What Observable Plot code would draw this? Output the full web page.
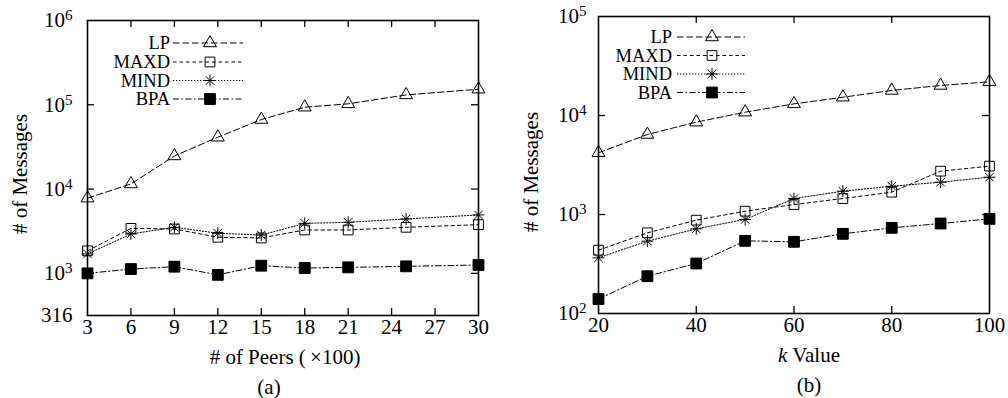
<!DOCTYPE html>
<html><head><meta charset="utf-8">
<script src="https://cdn.jsdelivr.net/npm/d3@7"></script>
<script src="https://cdn.jsdelivr.net/npm/@observablehq/plot@0.6"></script>
<style>
body{margin:0;background:#fff;}
#wrap{display:flex;width:1008px;height:398px;overflow:hidden;}
</style></head><body><div id="wrap"></div>
<script>
// ---------- data ----------
const seriesNames = ["LP", "MAXD", "MIND", "BPA"];

const peers = [3, 6, 9, 12, 15, 18, 21, 25, 30];
const peersLP   = [7800, 11500, 24700, 41200, 66800, 93600, 102600, 131000, 153000];
const peersMAXD = [1850, 3420, 3360, 2680, 2630, 3270, 3270, 3520, 3780];
const peersMIND = [1700, 2930, 3520, 2990, 2850, 3920, 4030, 4420, 4930];
const peersBPA  = [1000, 1125, 1200, 960, 1233, 1157, 1178, 1211, 1256];

const kValues = [20, 30, 40, 50, 60, 70, 80, 90, 100];
const kLP   = [4200, 6430, 8570, 10800, 13100, 15300, 17900, 20100, 21900];
const kMAXD = [436, 653, 877, 1080, 1260, 1450, 1680, 2740, 3080];
const kMIND = [365, 538, 716, 891, 1450, 1720, 1930, 2120, 2380];
const kBPA  = [140, 238, 320, 542, 530, 638, 733, 811, 904];

const peersXTicks = [3, 6, 9, 12, 15, 18, 21, 24, 27, 30];
const peersYTicks = [316.2278, 1e3, 1e4, 1e5, 1e6];
const peersYTickLabels = ["316", "10^3", "10^4", "10^5", "10^6"];
const kXTicks = [20, 40, 60, 80, 100];
const kYTicks = [1e2, 1e3, 1e4, 1e5];
const kYTickLabels = ["10^2", "10^3", "10^4", "10^5"];

// ---------- styles ----------
const FONT = "'Liberation Serif', 'Times New Roman', serif";
const FS = 21;
const asterisk8 = {
  draw(ctx, size) {
    const r = Math.sqrt(size) * 0.6, d = r * Math.SQRT1_2;
    ctx.moveTo(-r, 0); ctx.lineTo(r, 0);
    ctx.moveTo(0, -r); ctx.lineTo(0, r);
    ctx.moveTo(-d, -d); ctx.lineTo(d, d);
    ctx.moveTo(-d, d); ctx.lineTo(d, -d);
  }
};
const style = {
  LP:   {dash: "6.5,3", symbol: "triangle", r: 4.8, fill: "none"},
  MAXD: {dash: "3.5,3", symbol: "square", r: 5.5, fill: "none"},
  MIND: {dash: "1.3,1.7", symbol: asterisk8, r: 5.6, fill: "none"},
  BPA:  {dash: "6,2.5,1.5,2.5", symbol: "square", r: 6.1, fill: "black"}
};
const symbolType = (s) => typeof s === "string" ? {triangle: d3.symbolTriangle, square: d3.symbolSquare}[s] : s;

function rows(xs, arrays) {
  const out = [];
  seriesNames.forEach((s, j) => xs.forEach((x, i) => out.push({x, y: arrays[j][i], s})));
  return out;
}

function makePanel(cfg) {
  const data = rows(cfg.xs, cfg.series);
  const fw = cfg.width - cfg.margin.left - cfg.margin.right;
  const fh = cfg.height - cfg.margin.top - cfg.margin.bottom;
  const innerX = cfg.xTicks.slice(1, -1);
  const innerY = cfg.yTicks.slice(1, -1);
  const marks = [];
  // inward mirrored ticks
  marks.push(Plot.tickX(innerX, {x: d => d, insetTop: fh - 7, stroke: "black", strokeWidth: 1.3}));
  marks.push(Plot.tickX(innerX, {x: d => d, insetBottom: fh - 7, stroke: "black", strokeWidth: 1.3}));
  marks.push(Plot.tickY(innerY, {y: d => d, insetRight: fw - 7, stroke: "black", strokeWidth: 1.3}));
  marks.push(Plot.tickY(innerY, {y: d => d, insetLeft: fw - 7, stroke: "black", strokeWidth: 1.3}));
  // series lines and markers
  for (const s of seriesNames) {
    const d = data.filter(r => r.s === s);
    marks.push(Plot.line(d, {x: "x", y: "y", stroke: "black", strokeWidth: 1, strokeDasharray: style[s].dash}));
  }
  for (const s of seriesNames) {
    const d = data.filter(r => r.s === s);
    const st = style[s];
    marks.push(Plot.dot(d, {x: "x", y: "y", symbol: () => st.symbol, r: st.r,
      stroke: "black", strokeWidth: 1, fill: st.fill}));
  }
  marks.push(Plot.frame({stroke: "black", strokeWidth: 1.6}));
  // legend
  const lg = cfg.legend;
  marks.push((index, scales, values, dims) => {
    const g = d3.create("svg:g");
    seriesNames.forEach((s, i) => {
      const st = style[s];
      const y = dims.marginTop + lg.rows[i];
      const x0 = dims.marginLeft;
      g.append("text").attr("x", x0 + lg.textEnd).attr("y", y).attr("dy", "0.34em")
        .attr("text-anchor", "end").attr("fill", "black")
        .style("font-size", "18.5px").text(s);
      g.append("line").attr("x1", x0 + lg.lineStart).attr("x2", x0 + lg.lineEnd)
        .attr("y1", y).attr("y2", y).attr("stroke", "black").attr("stroke-width", 1)
        .attr("stroke-dasharray", st.dash);
      g.append("path").attr("transform", `translate(${x0 + lg.marker},${y})`)
        .attr("d", d3.symbol(symbolType(st.symbol), st.r * st.r * Math.PI)())
        .attr("fill", st.fill).attr("stroke", "black").attr("stroke-width", 1);
    });
    return g.node();
  });
  // axis titles and caption
  marks.push(Plot.text([cfg.yLabel], {text: d => d, frameAnchor: "left", textAnchor: "middle", lineAnchor: "middle",
    dx: cfg.yLabelDx, dy: cfg.yLabelDy, rotate: -90, fontSize: FS, fill: "black"}));
  marks.push(Plot.text([cfg.xLabel], {text: d => d, frameAnchor: "bottom", textAnchor: "middle", lineAnchor: "middle",
    dx: cfg.xLabelDx, dy: cfg.xLabelDy, fontSize: FS, fill: "black"}));
  marks.push(Plot.text([cfg.caption], {text: d => d, frameAnchor: "bottom", textAnchor: "middle", lineAnchor: "middle",
    dx: cfg.capDx, dy: cfg.capDy, fontSize: FS, fill: "black"}));

  const svg = Plot.plot({
    width: cfg.width, height: cfg.height,
    marginLeft: cfg.margin.left, marginRight: cfg.margin.right,
    marginTop: cfg.margin.top, marginBottom: cfg.margin.bottom,
    style: {fontSize: FS + "px", color: "black", background: "white"},
    x: {type: "linear", domain: cfg.xDomain, ticks: cfg.xTicks, tickSize: 0, tickPadding: 4, label: null, tickFormat: d => String(d)},
    y: {type: "log", domain: cfg.yDomain, ticks: cfg.yTicks, tickSize: 0, tickPadding: cfg.yPad, label: null,
        tickFormat: d => String(d)},
    marks
  });
  // y tick labels from the label list (in tick order)
  const yl = svg.querySelectorAll('g[aria-label="y-axis tick label"] text');
  yl.forEach((t, i) => { if (i < cfg.yTickLabels.length) t.textContent = cfg.yTickLabels[i]; });
  // fonts, superscripts and italic
  svg.setAttribute("font-family", FONT);
  svg.style.fontFamily = FONT;
  svg.querySelectorAll("text").forEach(t => {
    t.setAttribute("font-family", FONT);
    t.style.fontFamily = FONT;
    const txt = t.textContent;
    if (/^10\^\d$/.test(txt)) {
      t.textContent = "10";
      const sp = document.createElementNS("http://www.w3.org/2000/svg", "tspan");
      sp.setAttribute("dy", "-0.45em");
      sp.setAttribute("font-size", "0.72em");
      sp.style.fontSize = "0.72em";
      sp.textContent = txt.slice(3);
      t.appendChild(sp);
    } else if (txt === "k Value") {
      t.textContent = "";
      const a = document.createElementNS("http://www.w3.org/2000/svg", "tspan");
      a.setAttribute("font-style", "italic"); a.style.fontStyle = "italic"; a.textContent = "k";
      const b = document.createElementNS("http://www.w3.org/2000/svg", "tspan");
      b.textContent = " Value";
      t.appendChild(a); t.appendChild(b);
    }
  });
  return svg;
}

const wrap = document.getElementById("wrap");
wrap.appendChild(makePanel({
  xs: peers, series: [peersLP, peersMAXD, peersMIND, peersBPA],
  width: 504, height: 398, margin: {left: 87, right: 26, top: 20, bottom: 83},
  xDomain: [3, 30], yDomain: [316.2, 1e6],
  xTicks: peersXTicks, yTicks: peersYTicks, yTickLabels: peersYTickLabels, yPad: 15,
  legend: {rows: [23, 42, 60.5, 79], textEnd: 83, lineStart: 86, lineEnd: 156, marker: 123},
  yLabel: "# of Messages", yLabelDx: -67, yLabelDy: 6,
  xLabel: "# of Peers (\u2009×100)", xLabelDx: 2, xLabelDy: 42,
  caption: "(a)", capDx: -14, capDy: 72
}));
wrap.appendChild(makePanel({
  xs: kValues, series: [kLP, kMAXD, kMIND, kBPA],
  width: 504, height: 398, margin: {left: 94, right: 19, top: 16, bottom: 85},
  xDomain: [20, 100], yDomain: [1e2, 1e5],
  xTicks: kXTicks, yTicks: kYTicks, yTickLabels: kYTickLabels, yPad: 12,
  legend: {rows: [21, 39.5, 58, 76.5], textEnd: 74, lineStart: 79, lineEnd: 147, marker: 114},
  yLabel: "# of Messages", yLabelDx: -67, yLabelDy: 7,
  xLabel: "k Value", xLabelDx: 15, xLabelDy: 42,
  caption: "(b)", capDx: 15, capDy: 72
}));
</script></body></html>
